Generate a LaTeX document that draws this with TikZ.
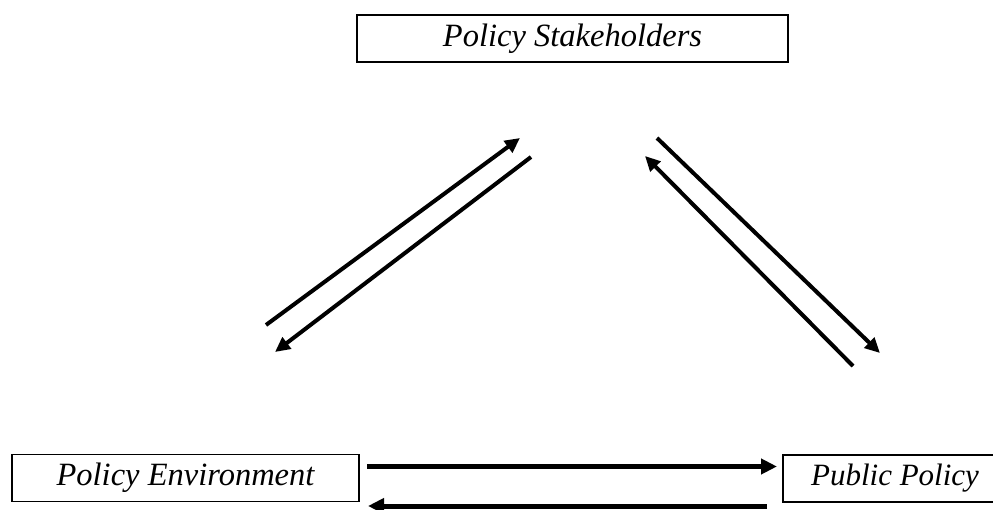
\documentclass[tikz,border=0pt]{standalone}
\usepackage{fontspec}
\setmainfont{Liberation Serif}
\usetikzlibrary{arrows.meta}
\begin{document}
\begin{tikzpicture}[x=1pt,y=-1pt,
  box/.style={draw,line width=1.6pt,minimum height=47pt,inner sep=0pt,font=\fontsize{32.5}{38}\selectfont\itshape},
  flow/.style={line width=5pt,-{Triangle[length=16pt,width=15pt]}},
  link/.style={line width=4pt,-{Triangle[length=15pt,width=14pt]}}]
\useasboundingbox (0,0) rectangle (993,510);
\node[box,minimum width=431pt](stake) at (572.5,38.5){Policy Stakeholders};
\node[box,minimum width=347pt](env) at (185.5,478){Policy Environment};
\node[box,minimum width=224pt](pub) at (895,478.5){\fontsize{31}{36}\selectfont Public Policy};
% arrow ends
\coordinate (ea) at (367,466.5);
\coordinate (pa) at (777,466.5);
\coordinate (pb) at (767,506);
\coordinate (eb) at (368,506);
\coordinate (la) at (266,325);
\coordinate (sa) at (520,138);
\coordinate (sb) at (531,157);
\coordinate (lb) at (275,352);
\coordinate (sc) at (657,138);
\coordinate (rc) at (880,353);
\coordinate (rd) at (853,366);
\coordinate (sd) at (645,156);
\draw[flow](ea) -- (pa);
\draw[flow](pb) -- (eb);
\draw[link](la) -- (sa);
\draw[link](sb) -- (lb);
\draw[link](sc) -- (rc);
\draw[link](rd) -- (sd);
\end{tikzpicture}
\end{document}
